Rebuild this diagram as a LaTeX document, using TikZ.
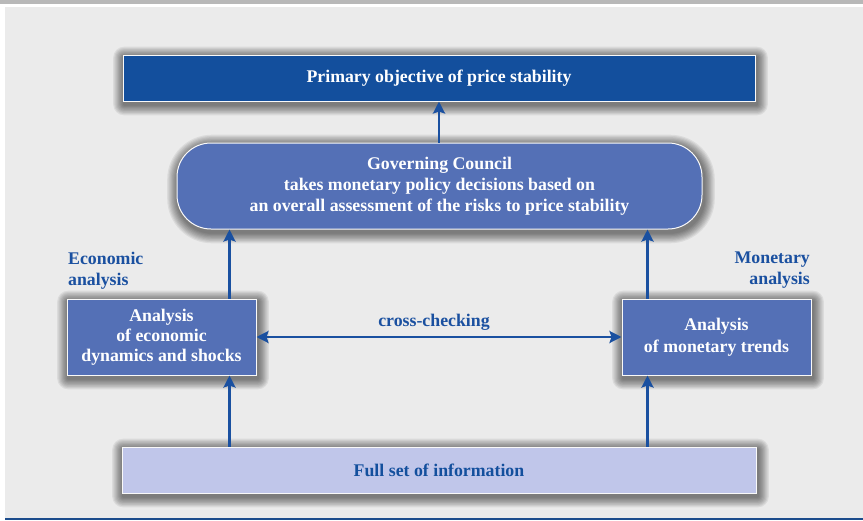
\documentclass[tikz,border=0pt]{standalone}
\usepackage{fontspec}
\setmainfont{Liberation Serif}
\usetikzlibrary{arrows.meta,calc,backgrounds}
\definecolor{bgpanel}{HTML}{EBEBEB}
\definecolor{topbar}{HTML}{B8B8B8}
\definecolor{darkbox}{HTML}{134F9D}
\definecolor{midbox}{HTML}{5470B6}
\definecolor{lightbox}{HTML}{C0C6EA}
\definecolor{arrowblue}{HTML}{1A50A0}
\definecolor{lineblue}{HTML}{1C4C8C}
\tikzset{
  boxbase/.style={draw=white!95!gray, line width=1pt, inner sep=0pt, align=center,
    font=\bfseries\fontsize{17.8}{21}\selectfont},
  darkstyle/.style={boxbase, fill=darkbox, text=white},
  midstyle/.style={boxbase, fill=midbox, text=white},
  lightstyle/.style={boxbase, fill=lightbox, text=darkbox},
  conn/.style={draw=arrowblue, line width=2.5pt, -{Stealth[length=12pt,width=12pt,inset=2pt]}},
  conn2/.style={draw=arrowblue, line width=2.5pt, {Stealth[length=12pt,width=12pt,inset=2pt]}-{Stealth[length=12pt,width=12pt,inset=2pt]}},
  lbl/.style={text=arrowblue, font=\bfseries\fontsize{17.8}{21}\selectfont, inner sep=0pt},
  shadowlayer/.style={fill=black, fill opacity=0.065}
}
\newcommand{\boxshadow}[2]{%
  \foreach \i in {1,...,9}{
    \fill[shadowlayer, rounded corners=#2+\i*1.2pt]
      ([xshift=-\i*1.2pt+1.5pt, yshift=\i*1.2pt-3pt]#1.north west) rectangle
      ([xshift=\i*1.2pt+1.5pt, yshift=-\i*1.2pt-3pt]#1.south east);
  }%
}
\begin{document}
\begin{tikzpicture}[x=1pt,y=-1pt]
\useasboundingbox (0,0) rectangle (863,520);

\node[darkstyle, minimum width=632pt, minimum height=46pt] (top) at (439,78) {Primary objective of price stability};
\node[midstyle, rounded corners=34pt, minimum width=525pt, minimum height=86pt] (gc) at (439.5,186)
  {Governing Council\\takes monetary policy decisions based on\\an overall assessment of the risks to price stability};
\node[midstyle, minimum width=189pt, minimum height=76pt, font=\bfseries\fontsize{17.8}{20}\selectfont] (ea) at (161.5,337)
  {Analysis\\of economic\\dynamics and shocks};
\node[midstyle, minimum width=189pt, minimum height=76pt, font=\bfseries\fontsize{17.8}{22}\selectfont] (ma) at (716.5,337)
  {Analysis\\of monetary trends};
\node[lightstyle, minimum width=634pt, minimum height=46pt] (info) at (439,470) {Full set of information};

\node[lbl, anchor=north west, align=left] (elbl) at (68,252) {Economic\\analysis};
\node[lbl, anchor=north east, align=right] (mlbl) at (810,252) {Monetary\\analysis};
\node[lbl] (cc) at (434,322) {cross-checking};

\draw[conn] (gc.north -| top.south) -- (top.south);
\draw[conn] ([xshift=-27pt]ea.north east) -- ([xshift=-27pt]ea.north east |- gc.south);
\draw[conn] ([xshift=26pt]ma.north west) -- ([xshift=26pt]ma.north west |- gc.south);
\draw[conn] ([xshift=-27pt]ea.south east |- info.north) -- ([xshift=-27pt]ea.south east);
\draw[conn] ([xshift=26pt]ma.south west |- info.north) -- ([xshift=26pt]ma.south west);
\draw[conn2] (ea.east) -- (ma.west);

\begin{pgfonlayer}{background}
\fill[white] (0,0) rectangle (863,520);
\fill[topbar] (0,0) rectangle (863,4);
\fill[bgpanel] (5,7) rectangle (863,518);
\fill[lineblue] (5,518) rectangle (863,520);
\boxshadow{top}{0pt}
\boxshadow{gc}{34pt}
\boxshadow{ea}{0pt}
\boxshadow{ma}{0pt}
\boxshadow{info}{0pt}
\end{pgfonlayer}
\end{tikzpicture}
\end{document}
